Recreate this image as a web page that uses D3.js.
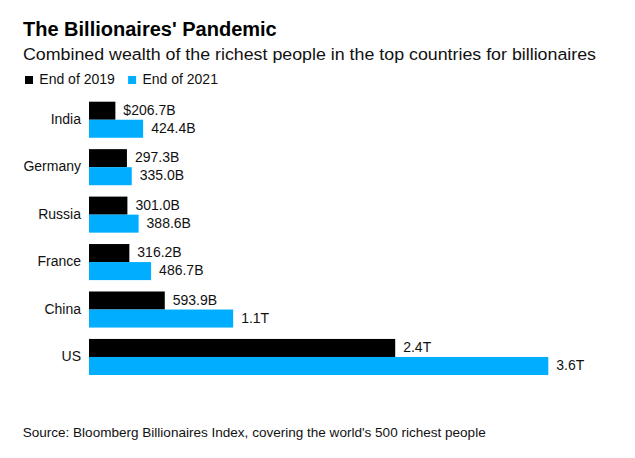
<!DOCTYPE html>
<html>
<head>
<meta charset="utf-8">
<script src="https://cdn.jsdelivr.net/npm/d3@7"></script>
<style>
  html, body { margin: 0; padding: 0; background: #fff; }
  svg { display: block; font-family: "Liberation Sans", Arial, Helvetica, sans-serif; }
</style>
</head>
<body>
<svg id="chart" width="635" height="458"></svg>
<script>
// ---- data ----
const countries = ["India", "Germany", "Russia", "France", "China", "US"];
const seriesNames = ["End of 2019", "End of 2021"];
// combined wealth, billions of US$
const wealth2019 = [206.7, 297.3, 301.0, 316.2, 593.9, 2400];
const wealth2021 = [424.4, 335.0, 388.6, 486.7, 1130, 3600];
const labels2019 = ["$206.7B", "297.3B", "301.0B", "316.2B", "593.9B", "2.4T"];
const labels2021 = ["424.4B", "335.0B", "388.6B", "486.7B", "1.1T", "3.6T"];
const seriesColors = ["#000000", "#00adff"];

const titleText = "The Billionaires' Pandemic";
const subtitleText = "Combined wealth of the richest people in the top countries for billionaires";
const sourceText = "Source: Bloomberg Billionaires Index, covering the world's 500 richest people";

// ---- layout ----
const svg = d3.select("#chart");
const rows = countries.map((c, i) => ({
  country: c,
  values: [
    { s: 0, v: wealth2019[i], label: labels2019[i] },
    { s: 1, v: wealth2021[i], label: labels2021[i] }
  ]
}));

const x = d3.scaleLinear().domain([0, 3600]).range([89, 548.3]);
const y = d3.scaleBand().domain(countries).range([101.7, 375]).paddingInner(0.24).paddingOuter(0);
const ySub = d3.scaleBand().domain([0, 1]).range([0, y.bandwidth()]).padding(0);

// title / subtitle
svg.append("text").attr("x", 23).attr("y", 36)
  .attr("font-size", 20).attr("font-weight", "bold").attr("fill", "#000")
  .text(titleText);
const sub = svg.append("text").attr("x", 23).attr("y", 60)
  .attr("font-size", 16.3).attr("fill", "#111")
  .text(subtitleText);
sub.attr("textLength", 573).attr("lengthAdjust", "spacingAndGlyphs");

// legend
const legend = svg.append("g");
let lx = 25;
seriesNames.forEach((name, i) => {
  legend.append("rect").attr("x", lx).attr("y", 76).attr("width", 8).attr("height", 8)
    .attr("fill", seriesColors[i]);
  const t = legend.append("text").attr("x", lx + 14.3).attr("y", 84)
    .attr("font-size", 14).attr("fill", "#111").text(name);
  lx = lx + 14.3 + t.node().getComputedTextLength() + 13.3;
});

// bars
const groups = svg.append("g").selectAll("g.row").data(rows).join("g")
  .attr("class", "row")
  .attr("transform", d => `translate(0,${y(d.country)})`);

groups.append("text")
  .attr("x", x(0) - 8)
  .attr("y", y.bandwidth() / 2)
  .attr("dy", "0.3em")
  .attr("text-anchor", "end")
  .attr("font-size", 14).attr("fill", "#111")
  .text(d => d.country);

groups.selectAll("rect").data(d => d.values).join("rect")
  .attr("x", x(0))
  .attr("y", d => ySub(d.s))
  .attr("width", d => x(d.v) - x(0))
  .attr("height", ySub.bandwidth())
  .attr("fill", d => seriesColors[d.s]);

groups.selectAll("text.val").data(d => d.values).join("text")
  .attr("class", "val")
  .attr("x", d => x(d.v) + 8)
  .attr("y", d => ySub(d.s) + ySub.bandwidth() / 2)
  .attr("dy", "0.3em")
  .attr("font-size", 14).attr("fill", "#111")
  .text(d => d.label);

// source
const src = svg.append("text").attr("x", 22.7).attr("y", 437.3)
  .attr("font-size", 13).attr("fill", "#111")
  .text(sourceText);
src.attr("textLength", 463).attr("lengthAdjust", "spacingAndGlyphs");
</script>
</body>
</html>
